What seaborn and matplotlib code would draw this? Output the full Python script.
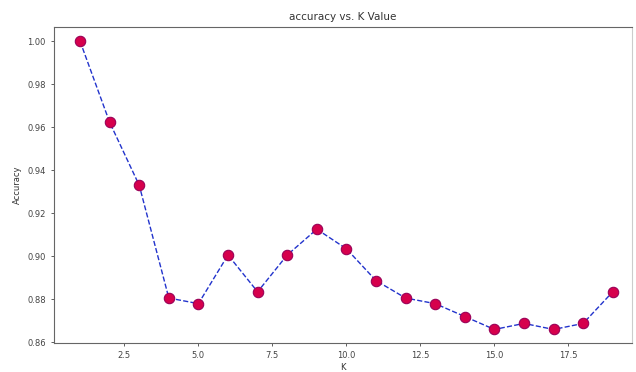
import matplotlib
matplotlib.use("Agg")
import matplotlib.pyplot as plt
import seaborn as sns
import pandas as pd

k_values = list(range(1, 20))
accuracy = [1.000, 0.9623, 0.9330, 0.8806, 0.8780, 0.9006, 0.8835, 0.9006, 0.9126,
            0.9035, 0.8887, 0.8806, 0.8780, 0.8720, 0.8660, 0.8688, 0.8660, 0.8688, 0.8835]

df = pd.DataFrame({"K": k_values, "Accuracy": accuracy})

plt.rcParams['font.family'] = ['DejaVu Sans']
fig = plt.figure(figsize=(6.36, 3.72), dpi=100)
ax = fig.add_axes([54/636, 1 - 343/372, (632 - 54)/636, (343 - 27)/372])

sns.lineplot(data=df, x="K", y="Accuracy", ax=ax, color="#2233cc", linestyle="--",
             linewidth=1.0, marker="o", markerfacecolor="#d6004c", markeredgecolor="#9a0058",
             markeredgewidth=0.8, markersize=7.5)

ax.set_xlim(0.12, 19.65)
ax.set_ylim(0.8597, 1.0066)
ax.set_xticks([2.5, 5.0, 7.5, 10.0, 12.5, 15.0, 17.5])
ax.set_yticks([0.86, 0.88, 0.90, 0.92, 0.94, 0.96, 0.98, 1.00])
ax.tick_params(labelsize=6, colors="#444444", length=2.5, width=0.6)
for s in ax.spines.values():
    s.set_color("#666666")
    s.set_linewidth(0.8)
ax.spines["right"].set_color("#cccccc")
ax.set_title("accuracy vs. K Value", fontsize=7.5, color="#333333", pad=5)
ax.set_xlabel("K", fontsize=6, color="#333333", labelpad=2)
ax.set_ylabel("Accuracy", fontsize=6, color="#333333", labelpad=4)

fig.savefig("out.png", dpi=100)
